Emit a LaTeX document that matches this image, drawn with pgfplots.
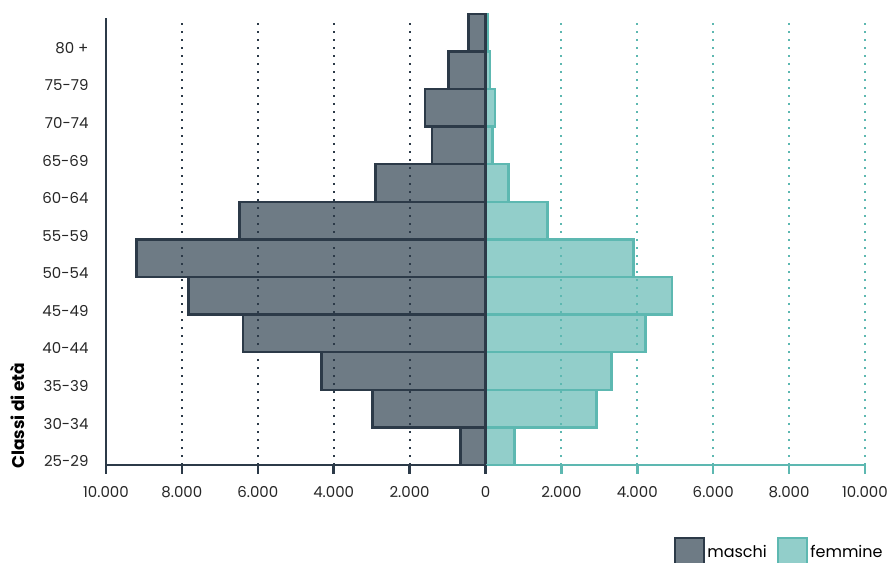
\documentclass[border=0pt]{standalone}
\usepackage{pgfplots}
\pgfplotsset{compat=1.18}
\usepackage{pgfplotstable}
\usepackage{fontspec}
\setmainfont{Poppins}
\definecolor{mdark}{HTML}{2C3A48}
\definecolor{mfill}{HTML}{6E7B85}
\definecolor{fline}{HTML}{5DB8B1}
\definecolor{ffill}{HTML}{92CECA}

% y = centre of each age class row, m = maschi (negative), f = femmine
\pgfplotstableread{
y     m      f
0.5   -660   770
1.5   -2980  2920
2.5   -4320  3320
3.5   -6390  4220
4.5   -7830  4920
5.5   -9200  3900
6.5   -6480  1640
7.5   -2900  600
8.5   -1415  190
9.5   -1600  245
10.5  -975   120
11.5  -450   60
}\pop

\begin{document}
\begin{tikzpicture}
\path[use as bounding box] (-106pt,-97pt) rectangle (787pt,465pt);
\begin{axis}[
  at={(0,0)}, anchor=south west,
  scale only axis, width=759pt, height=447pt,
  xmin=-10000, xmax=10000, ymin=0, ymax=11.89,
  clip=false,
  scaled x ticks=false,
  axis line style={draw=none},
  tick style={draw=none},
  font=\fontsize{15}{17}\selectfont,
  xtick={-10000,-8000,-6000,-4000,-2000,0,2000,4000,6000,8000,10000},
  xticklabels={10.000,8.000,6.000,4.000,2.000,0,2.000,4.000,6.000,8.000,10.000},
  xticklabel style={yshift=-18pt, text=black!85},
  ytick={0.1,1.1,2.1,3.1,4.1,5.1,6.1,7.1,8.1,9.1,10.1,11.1},
  yticklabels={25-29,30-34,35-39,40-44,45-49,50-54,55-59,60-64,65-69,70-74,75-79,80 +},
  yticklabel style={xshift=-14pt, text=black!85},
  ylabel={\bfseries Classi di età},
  ylabel style={at={(axis description cs:-0.117,0.11)}, anchor=center,
    font=\fontsize{17}{19}\selectfont},
  legend columns=2,
  legend style={at={(1.03,-0.195)}, anchor=east, draw=none, fill=none,
    font=\fontsize{16}{18}\selectfont,
    /tikz/every even column/.append style={column sep=8pt}},
  legend image code/.code={\draw[#1, line width=2.5pt] (0pt,-14pt) rectangle (29pt,14pt);},
]
\addplot[xbar, bar width=1, bar shift=0, fill=ffill, draw=fline, line width=2.5pt, forget plot]
  table[x=f, y=y] {\pop};
\addplot[xbar, bar width=1, bar shift=0, fill=mfill, draw=mdark, line width=2.5pt, forget plot]
  table[x=m, y=y] {\pop};
\addlegendimage{fill=mfill, draw=mdark}
\addlegendentry{maschi}
\addlegendimage{fill=ffill, draw=fline}
\addlegendentry{femmine}

% dotted grid, axis lines and ticks in two colours
\pgfplotsinvokeforeach{-8000,-6000,-4000,-2000,0}{
  \draw[mdark, line width=2pt, dash pattern=on 2pt off 6pt] (axis cs:#1,0) -- (axis cs:#1,11.89);
}
\pgfplotsinvokeforeach{2000,4000,6000,8000,10000}{
  \draw[fline, line width=2pt, dash pattern=on 2pt off 6pt] (axis cs:#1,0) -- (axis cs:#1,11.89);
}
\draw[fline, line width=2.5pt] (axis cs:0,0) -- (axis cs:10000,0);
\draw[mdark, line width=2.5pt] (axis cs:-10000,0) -- (axis cs:0,0);
\draw[mdark, line width=2pt] (axis cs:-10000,0) -- (axis cs:-10000,11.89);
\pgfplotsinvokeforeach{-10000,-8000,-6000,-4000,-2000,0}{
  \draw[mdark, line width=2.5pt] (axis cs:#1,0) -- ([yshift=-9pt]axis cs:#1,0);
}
\pgfplotsinvokeforeach{2000,4000,6000,8000,10000}{
  \draw[fline, line width=2.5pt] (axis cs:#1,0) -- ([yshift=-9pt]axis cs:#1,0);
}
\end{axis}
\end{tikzpicture}
\end{document}
